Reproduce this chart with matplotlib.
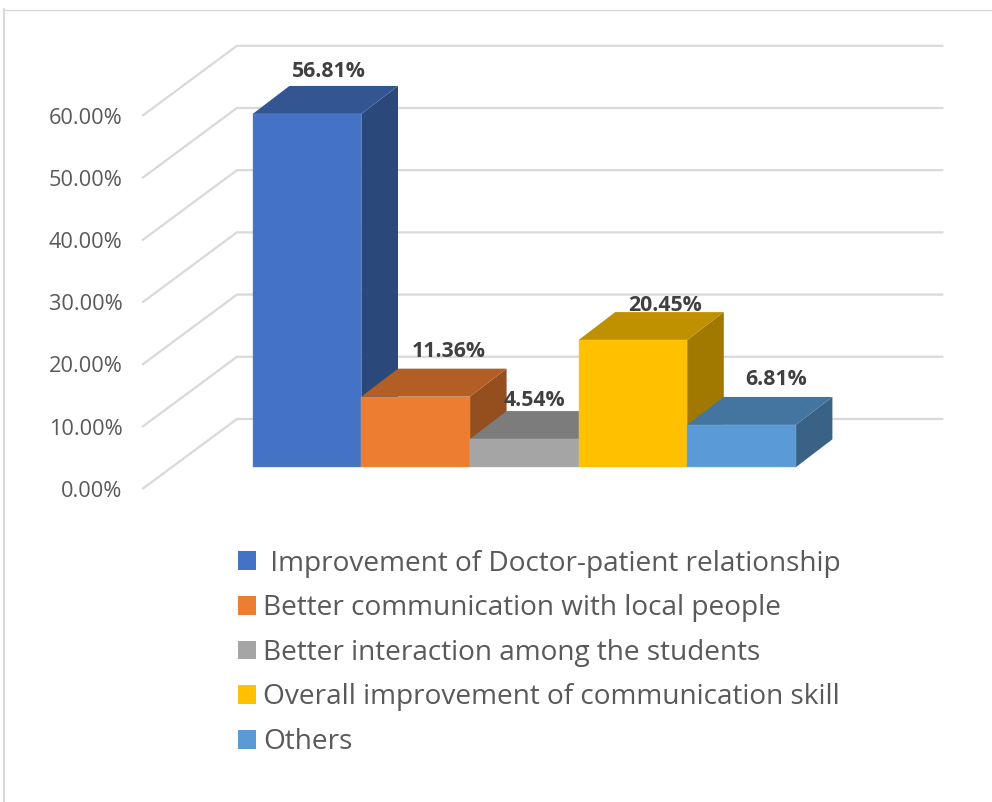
import matplotlib
matplotlib.use("Agg")
import matplotlib.pyplot as plt
from matplotlib.lines import Line2D
from matplotlib.patches import Patch, Polygon

plt.rcParams['font.family'] = ['Open Sans', 'DejaVu Sans']

# Survey results
categories = [
    ' Improvement of Doctor-patient relationship',
    'Better communication with local people',
    'Better interaction among the students',
    'Overall improvement of communication skill',
    'Others',
]
values = [56.81, 11.36, 4.54, 20.45, 6.81]
value_labels = ['56.81%', '11.36%', '4.54%', '20.45%', '6.81%']
axis_ticks = [0, 10, 20, 30, 40, 50, 60]
axis_labels = ['0.00%', '10.00%', '20.00%', '30.00%', '40.00%', '50.00%', '60.00%']

colors = ['#4472C4', '#ED7D31', '#A5A5A5', '#FFC000', '#5B9BD5']

W, H = 992, 802
BAR_PX = 108.6      # one category in pixels
PCT_PX = 6.22       # one percent in pixels
X0_PX = 307.0       # centre of first bar
Y0_PX = 467.3       # bar baseline

# Fake 3D extrusion, in data units
BAR_DX, BAR_DY = 36.7 / BAR_PX, 28.0 / PCT_PX
WALL_FRONT_X, WALL_BACK_X, WALL_END_X = -1.51, -0.645, 5.85
WALL_FRONT_Y, WALL_BACK_Y = -3.41, 7.77

# Hand placed data label offsets, pixels from top-centre of the front face
label_offsets = [(22, 42), (33, 45), (10, 39), (32, 35), (35, 45)]


def shade(color, factor):
    rgb = matplotlib.colors.to_rgb(color)
    return tuple(c * factor for c in rgb)


def tint(color, amount):
    rgb = matplotlib.colors.to_rgb(color)
    return tuple(c + (1 - c) * amount for c in rgb)


fig = plt.figure(figsize=(W / 100, H / 100), dpi=100)
ax = fig.add_axes([0, 0, 1, 1])
ax.set_xlim(-X0_PX / BAR_PX, (W - X0_PX) / BAR_PX)
ax.set_ylim(-(H - Y0_PX) / PCT_PX, Y0_PX / PCT_PX)
ax.axis('off')

# Chart area border, top and left only
fig.add_artist(Line2D([3.5 / W, 3.5 / W], [0, 1 - 9 / H], color='#d9d9d9', lw=1.5))
fig.add_artist(Line2D([3 / W, 1], [1 - 9.5 / H, 1 - 9.5 / H], color='#d9d9d9', lw=1.0))

# Side wall and back wall gridlines
for tick, label in zip(axis_ticks, axis_labels):
    ax.plot([WALL_FRONT_X, WALL_BACK_X, WALL_END_X],
            [tick + WALL_FRONT_Y, tick + WALL_BACK_Y, tick + WALL_BACK_Y],
            color='#d9d9d9', lw=1.6, solid_joinstyle='miter', zorder=1)
    ax.text(WALL_FRONT_X - 0.19, tick + WALL_FRONT_Y - 0.45, label, ha='right', va='center',
            fontsize=15.7, color='#595959')

# Left to right so every bar overlaps the one before it
for i, (value, color) in enumerate(zip(values, colors)):
    left, right = i - 0.5, i + 0.5
    z = 2 + i
    edge = tint(color, 0.15)
    ax.add_patch(Polygon([(right, 0), (right + BAR_DX, BAR_DY),
                          (right + BAR_DX, value + BAR_DY), (right, value)],
                         facecolor=shade(color, 0.63), edgecolor='none', zorder=z))
    ax.add_patch(Polygon([(left, value), (right, value),
                          (right + BAR_DX, value + BAR_DY), (left + BAR_DX, value + BAR_DY)],
                         facecolor=shade(color, 0.75), edgecolor='none', zorder=z))
    ax.bar(i, value, width=1.0, color=color, edgecolor=edge, linewidth=0.3, zorder=z)

for i, (value, text) in enumerate(zip(values, value_labels)):
    ax.annotate(text, xy=(i, value), xytext=label_offsets[i], textcoords='offset pixels',
                ha='center', va='center', fontsize=15.3, fontweight='bold',
                color='#404040', zorder=10)

handles = [Patch(facecolor=c, edgecolor='none') for c in colors]
fig.legend(handles, categories, loc='upper left', bbox_to_anchor=(238 / W, 1 - 549.5 / H),
           frameon=False, fontsize=20.15, labelcolor='#595959', handlelength=0.643,
           handleheight=0.643, handletextpad=0.26, labelspacing=0.595, borderpad=0,
           borderaxespad=0)

fig.savefig('out.png', dpi=100)
